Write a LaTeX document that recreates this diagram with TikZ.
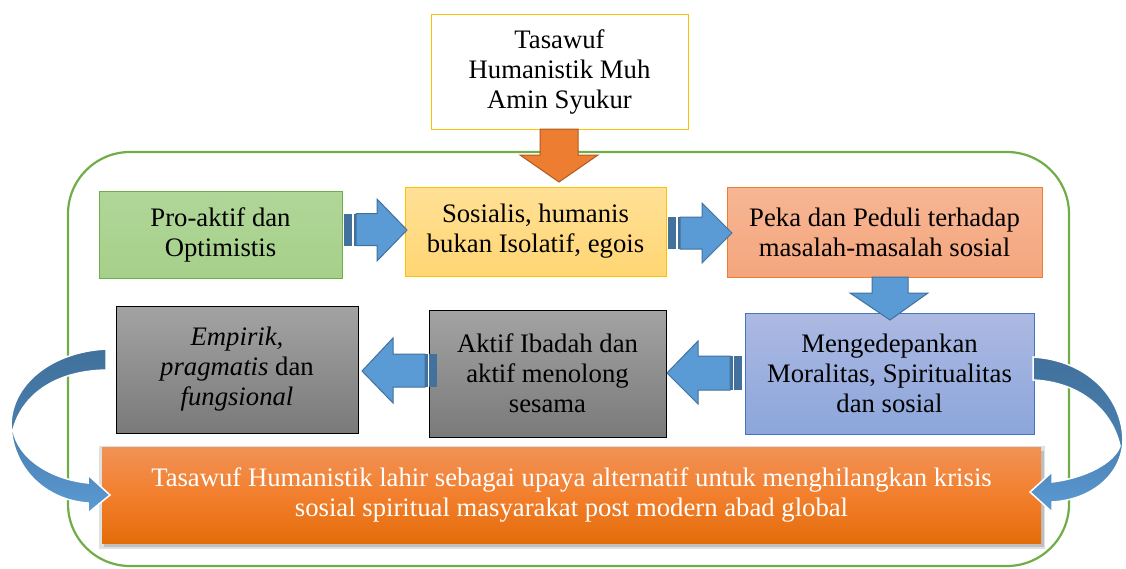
\documentclass[tikz,border=0pt]{standalone}
\usepackage{fontspec}
\setmainfont{LiberationSerif}[Extension=.ttf,UprightFont=*-Regular,ItalicFont=*-Italic,BoldFont=*-Bold,BoldItalicFont=*-BoldItalic]
\begin{document}
\begin{tikzpicture}[x=1pt,y=-1pt,
  box/.style={rectangle,inner sep=0pt,outer sep=0pt,align=center,
    font=\rmfamily\fontsize{26.7}{30}\selectfont,line width=1pt,
    execute at begin node={\rule{0pt}{29pt}}},
  arr/.style={fill=arrblue,draw=arrdark,line width=1pt,line join=miter},
  stripe/.style={fill=arrdark},
  curv/.style={draw=white,line width=1.5pt,top color=arrdark,bottom color=arrblue,middle color=arrdark!70!arrblue}]
\definecolor{arrblue}{HTML}{5B9BD5}
\definecolor{arrdark}{HTML}{41719C}
\definecolor{gold}{HTML}{FFC000}
\definecolor{frame}{HTML}{70AD47}
\definecolor{orng}{HTML}{ED7D31}
\definecolor{orngdark}{HTML}{AE5A21}
\useasboundingbox (0,0) rectangle (1126,568);

% green frame
\draw[frame,line width=2.2pt,rounded corners=62pt] (68,152) rectangle (1069,566);

% top box
\node[box,draw=gold,fill=white,minimum width=257pt,minimum height=115pt] (top) at (559.5,71.5)
  {Tasawuf\\Humanistik Muh\\Amin Syukur};

% orange down arrow
\draw[fill=orng,draw=orngdark,line width=1pt] (540,129) -- (578,129) -- (578,155) -- (598,155) -- (559,182) -- (520,155) -- (540,155) -- cycle;

% first row
\node[box,draw=frame,
  top color={rgb,255:red,176;green,214;blue,152},bottom color={rgb,255:red,166;green,208;blue,138},
  minimum width=243pt,minimum height=87pt] (pro) at (220.5,234.5) {Pro-aktif dan\\Optimistis};
\node[box,draw=gold,top color={rgb,255:red,255;green,224;blue,150},bottom color={rgb,255:red,255;green,214;blue,115},
  minimum width=261pt,minimum height=89pt] (sos) at (535.5,231.5) {Sosialis, humanis\\bukan Isolatif, egois};
\node[box,draw=orng,top color={rgb,255:red,247;green,182;blue,148},bottom color={rgb,255:red,244;green,166;blue,125},
  minimum width=315pt,minimum height=90pt] (peka) at (884.5,232) {Peka dan Peduli terhadap\\masalah-masalah sosial};

% second row
\node[box,draw={rgb,255:red,68;green,114;blue,196},top color={rgb,255:red,172;green,185;blue,226},bottom color={rgb,255:red,140;green,166;blue,219},
  minimum width=289pt,minimum height=121pt] (moral) at (889.5,373.5) {Mengedepankan\\Moralitas, Spiritualitas\\dan sosial};
\node[box,draw=black,top color={rgb,255:red,163;green,163;blue,163},bottom color={rgb,255:red,122;green,122;blue,122},
  minimum width=237pt,minimum height=127pt] (ibadah) at (547.5,373.5) {Aktif Ibadah dan\\aktif menolong\\sesama};
\node[box,draw=black,top color={rgb,255:red,163;green,163;blue,163},bottom color={rgb,255:red,122;green,122;blue,122},
  minimum width=242pt,minimum height=127pt] (emp) at (237,369.5) {\textit{Empirik,}\\\textit{pragmatis} dan\\\textit{fungsional}};

% right arrows (row 1)
\fill[stripe] (344,213.5) rectangle (352,245.5);
\fill[stripe] (353.5,213.5) rectangle (356,245.5);
\draw[arr] (356,213.5) -- (377,213.5) -- (377,199) -- (407,230) -- (377,261) -- (377,245.5) -- (356,245.5) -- cycle;

\fill[stripe] (668,217) rectangle (676,249);
\fill[stripe] (677.5,217) rectangle (680,249);
\draw[arr] (680,217) -- (702,217) -- (702,203) -- (732,233) -- (702,263) -- (702,249) -- (680,249) -- cycle;

% down blue arrow
\draw[arr] (872,277) -- (908,277) -- (908,293) -- (928,293) -- (890,320) -- (850,293) -- (872,293) -- cycle;

% left arrows (row 2)
\fill[stripe] (742,356) rectangle (734,390);
\fill[stripe] (732.5,356) rectangle (730,390);
\draw[arr] (730,356) -- (698,356) -- (698,341) -- (667,373) -- (698,404) -- (698,390) -- (730,390) -- cycle;

\fill[stripe] (437,354) rectangle (429,387);
\fill[stripe] (427.5,354) rectangle (425,387);
\draw[arr] (425,354) -- (393,354) -- (393,338) -- (362,371) -- (393,403) -- (393,387) -- (425,387) -- cycle;

% bottom box with shadow
\fill[black!12] (99,446) rectangle (1045,549);
\fill[black!25] (104,451) rectangle (1044,547);
\node[box,draw=none,top color={rgb,255:red,241;green,146;blue,86},bottom color={rgb,255:red,228;green,108;blue,10},
  middle color={rgb,255:red,242;green,127;blue,45},text=white,
  minimum width=939pt,minimum height=96pt] (bot) at (571.5,495)
  {Tasawuf Humanistik lahir sebagai upaya alternatif untuk menghilangkan krisis\\sosial spiritual masyarakat post modern abad global};

% curved arrows
\path[curv] (106,349) .. controls (50,352) and (12,385) .. (11,424)
  .. controls (12,468) and (45,500) .. (88,503)
  -- (88,513) -- (110,495) -- (88,475) -- (88,483)
  .. controls (50,479) and (18,458) .. (13,430)
  .. controls (22,395) and (55,371) .. (106,370) -- cycle;

\path[curv] (1033,357) .. controls (1085,360) and (1122,395) .. (1123,440)
  .. controls (1122,476) and (1090,500) .. (1052,502)
  -- (1052,512) -- (1030,492) -- (1052,472) -- (1052,482)
  .. controls (1085,478) and (1114,463) .. (1120,446)
  .. controls (1112,410) and (1080,382) .. (1033,380) -- cycle;
\end{tikzpicture}
\end{document}
